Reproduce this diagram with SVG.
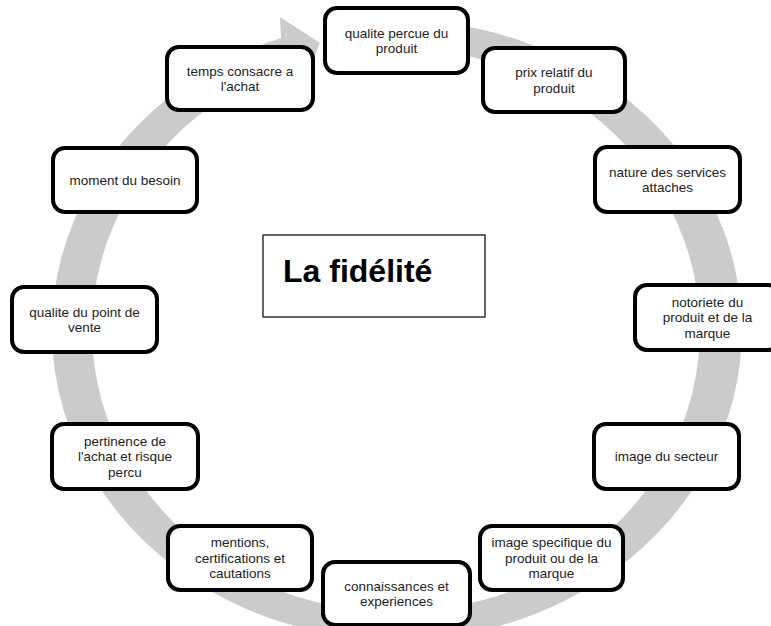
<svg xmlns="http://www.w3.org/2000/svg" width="771" height="626" viewBox="0 0 771 626">
<style>
.box{fill:#fff;stroke:#000;stroke-width:4}
.t{font-family:"Liberation Sans",Arial,sans-serif;font-size:13.5px;fill:#222;text-anchor:middle}
.ring{fill:#cbcbcb;stroke:none}
</style>
<rect width="771" height="626" fill="#fff"/>
<g id="connectors">
<path class="ring" d="M397,20 A345,310 0 1 1 281,38 L280,17 L320,43 L302,84 L295,64 A304,282 0 1 0 397,48 Z"/>
</g>
<g id="center">
<rect x="263" y="235" width="222" height="82" fill="#fff" stroke="#333" stroke-width="1.5"/>
<text x="283" y="282" font-family="'Liberation Sans',Arial,sans-serif" font-size="32" font-weight="bold" fill="#000">La fidélité</text>
</g>
<g id="n1"><rect class="box" x="325" y="8" width="143" height="65" rx="12"/>
<text class="t" x="396.5" y="37.5">qualite percue du</text><text class="t" x="396.5" y="53">produit</text></g>
<g id="n2"><rect class="box" x="483" y="48" width="142" height="64" rx="12"/>
<text class="t" x="554" y="77">prix relatif du</text><text class="t" x="554" y="92.5">produit</text></g>
<g id="n3"><rect class="box" x="595" y="147" width="145" height="65" rx="12"/>
<text class="t" x="667.5" y="176.5">nature des services</text><text class="t" x="667.5" y="192">attaches</text></g>
<g id="n4"><rect class="box" x="635" y="285" width="145" height="65" rx="12"/>
<text class="t" x="707.5" y="306.5">notoriete du</text><text class="t" x="707.5" y="322">produit et de la</text><text class="t" x="707.5" y="337.5">marque</text></g>
<g id="n5"><rect class="box" x="594" y="424" width="145" height="65" rx="12"/>
<text class="t" x="666.5" y="461">image du secteur</text></g>
<g id="n6"><rect class="box" x="480" y="526" width="143" height="64" rx="12"/>
<text class="t" x="551.5" y="547">image specifique du</text><text class="t" x="551.5" y="562.5">produit ou de la</text><text class="t" x="551.5" y="578">marque</text></g>
<g id="n7"><rect class="box" x="323" y="562" width="147" height="63" rx="12"/>
<text class="t" x="396.5" y="590.5">connaissances et</text><text class="t" x="396.5" y="606">experiences</text></g>
<g id="n8"><rect class="box" x="168" y="526" width="144" height="64" rx="12"/>
<text class="t" x="240" y="547">mentions,</text><text class="t" x="240" y="562.5">certifications et</text><text class="t" x="240" y="578">cautations</text></g>
<g id="n9"><rect class="box" x="52" y="424" width="146" height="65" rx="12"/>
<text class="t" x="125" y="445.5">pertinence de</text><text class="t" x="125" y="461">l'achat et risque</text><text class="t" x="125" y="476.5">percu</text></g>
<g id="n10"><rect class="box" x="12" y="287" width="145" height="65" rx="12"/>
<text class="t" x="84.5" y="316.5">qualite du point de</text><text class="t" x="84.5" y="332">vente</text></g>
<g id="n11"><rect class="box" x="53" y="148" width="144" height="64" rx="12"/>
<text class="t" x="125" y="184.5">moment du besoin</text></g>
<g id="n12"><rect class="box" x="167" y="47" width="146" height="63" rx="12"/>
<text class="t" x="240" y="75.5">temps consacre a</text><text class="t" x="240" y="91">l'achat</text></g>
</svg>
